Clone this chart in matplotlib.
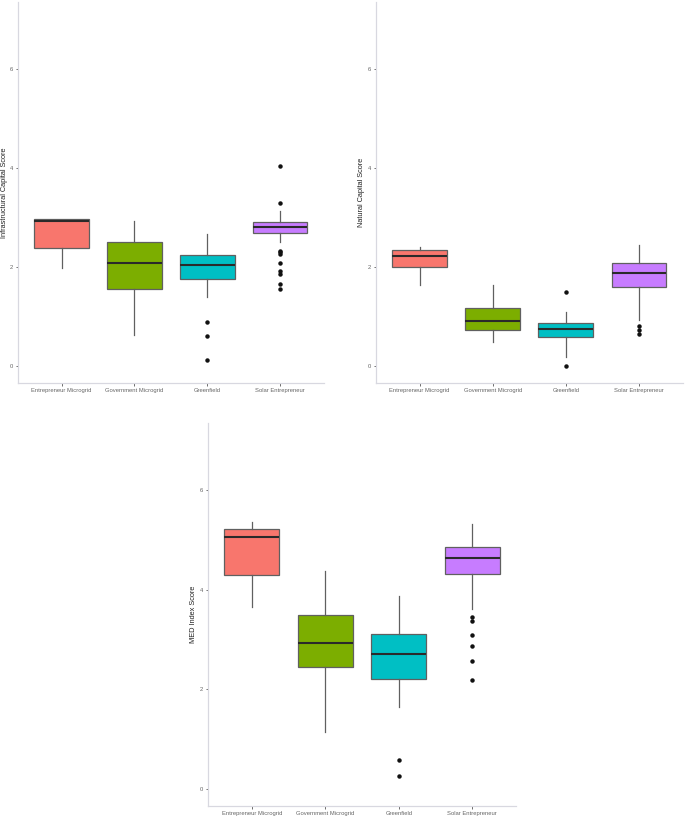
import matplotlib
matplotlib.use("Agg")
import matplotlib.pyplot as plt

plt.rcParams['font.family'] = ['Liberation Sans', 'DejaVu Sans']

categories = ["Entrepreneur Microgrid", "Government Microgrid", "Greenfield", "Solar Entrepreneur"]
colors = ["#F8766D", "#7CAE00", "#00BFC4", "#C77CFF"]

# (whislo, q1, med, q3, whishi) per category
infra_stats = [
    [1.97, 2.38, 2.92, 2.96, 2.97],
    [0.61, 1.54, 2.07, 2.49, 2.92],
    [1.39, 1.76, 2.03, 2.24, 2.66],
    [2.50, 2.68, 2.81, 2.90, 3.13],
]
infra_fliers = [
    [],
    [],
    [0.89, 0.59, 0.11],
    [4.03, 3.28, 2.32, 2.29, 2.26, 2.07, 1.92, 1.85, 1.66, 1.54],
]

natural_stats = [
    [1.63, 2.00, 2.22, 2.34, 2.40],
    [0.48, 0.73, 0.90, 1.17, 1.64],
    [0.17, 0.58, 0.75, 0.86, 1.08],
    [0.92, 1.58, 1.87, 2.07, 2.43],
]
natural_fliers = [
    [],
    [],
    [1.49, 0.0],
    [0.81, 0.73, 0.65],
]

med_stats = [
    [3.66, 4.29, 5.06, 5.21, 5.35],
    [1.14, 2.44, 2.92, 3.48, 4.37],
    [1.65, 2.20, 2.70, 3.10, 3.87],
    [3.61, 4.31, 4.63, 4.85, 5.31],
]
med_fliers = [
    [],
    [],
    [0.58, 0.25],
    [3.45, 3.36, 3.08, 2.87, 2.56, 2.19],
]

yticks = [0, 2, 4, 6]

W, H = 685, 817
fig = plt.figure(figsize=(W / 100, H / 100), dpi=100)


def make_ax(left_px, right_px, top_px, bottom_px):
    return fig.add_axes([left_px / W, 1 - bottom_px / H,
                         (right_px - left_px) / W, (bottom_px - top_px) / H])


def draw(ax, stats, fliers, ylabel, label_px_offset):
    bxp_stats = []
    for s, f in zip(stats, fliers):
        bxp_stats.append(dict(whislo=s[0], q1=s[1], med=s[2], q3=s[3],
                              whishi=s[4], fliers=f))
    parts = ax.bxp(bxp_stats, positions=range(1, len(stats) + 1), widths=0.75,
                   patch_artist=True, showcaps=False,
                   boxprops=dict(edgecolor="#606060", linewidth=0.9),
                   whiskerprops=dict(color="#606060", linewidth=0.9),
                   medianprops=dict(color="#2a2a2a", linewidth=1.5),
                   flierprops=dict(marker="o", markerfacecolor="#111111",
                                   markeredgecolor="#111111", markersize=2.2,
                                   linestyle="none"))
    for patch, c in zip(parts["boxes"], colors):
        patch.set_facecolor(c)
    ax.set_xlim(0.4, 4.6)
    ax.set_ylim(-0.35, 7.35)
    ax.set_yticks(yticks)
    ax.set_yticklabels([str(v) for v in yticks])
    ax.set_xticks(range(1, len(categories) + 1))
    ax.set_xticklabels(categories)
    for side in ("top", "right"):
        ax.spines[side].set_visible(False)
    for side in ("left", "bottom"):
        ax.spines[side].set_color("#d8d8e0")
        ax.spines[side].set_linewidth(0.9)
    ax.tick_params(axis="both", length=1.8, width=0.6, color="#555555",
                   labelsize=4.2, labelcolor="#666666", pad=1.5)
    ax.set_ylabel(ylabel, fontsize=5.3, color="#222222")
    ax.yaxis.label.set_va("center")
    width_px = ax.get_position().width * W
    ax.yaxis.set_label_coords(-label_px_offset / width_px, 0.5)
    ax.set_facecolor("white")


ax1 = make_ax(18, 323.7, 1.9, 383)
draw(ax1, infra_stats, infra_fliers, "Infrastructural Capital Score", 13)

ax2 = make_ax(375.8, 682.9, 1.9, 383)
draw(ax2, natural_stats, natural_fliers, "Natural Capital Score", 14)

ax3 = make_ax(207.6, 516.4, 422.6, 806.4)
draw(ax3, med_stats, med_fliers, "MED Index Score", 14)

fig.savefig("out.png", dpi=100, facecolor="white")
